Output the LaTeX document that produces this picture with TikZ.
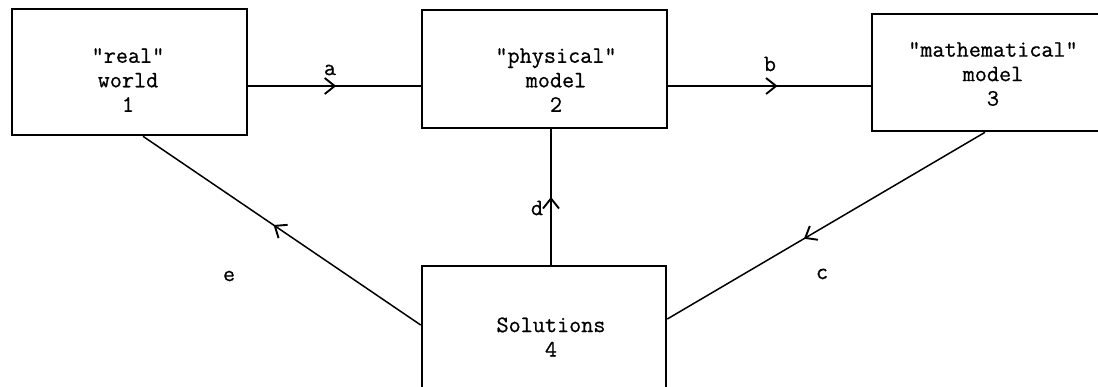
\documentclass[tikz,border=0pt]{standalone}
\usepackage{fontspec}
\newfontfamily\typewriter{Latin Modern Mono}[FakeBold=0.7]
\usetikzlibrary{arrows.meta,decorations.markings}
\tikzset{
  boxnode/.style={draw, rectangle, line width=2.6pt, inner sep=0pt},
  txt/.style={font=\typewriter\fontsize{23.5}{24.5}\selectfont, inner sep=0pt, align=center},
  flow/.style={line width=1.5pt, postaction={decorate},
    decoration={markings, mark=at position #1 with
      {\arrow{Straight Barb[length=10pt,width=16pt,line width=1.9pt]}}}},
}
\begin{document}
\begin{tikzpicture}[x=1pt,y=-1pt]
  \clip (0,0) rectangle (1098,386);

  % the four boxes
  \node[boxnode, minimum width=235pt, minimum height=126pt] (b1) at (129.5,72) {};
  \node[boxnode, minimum width=245pt, minimum height=118pt] (b2) at (544.5,69) {};
  \node[boxnode, minimum width=233pt, minimum height=117pt] (b3) at (988.5,72.5) {};
  \node[boxnode, minimum width=244pt, minimum height=134pt] (b4) at (544,333) {};

  % box texts
  \node[txt] (t1) at (128,80) {"real"\\world\\1};
  \node[txt] (t2) at (556,80) {"physical"\\model\\2};
  \node[txt] (t3) at (993,74) {"mathematical"\\model\\3};
  \node[txt] (t4) at (551,337) {Solutions\\4};

  % reference points for where the connectors meet the boxes
  \coordinate (ya) at (0,86);
  \coordinate (xd) at (551,0);
  \coordinate (ye) at (0,325);
  \coordinate (xe) at (143,0);
  \coordinate (yc) at (0,319);
  \coordinate (xc) at (985,0);

  % connectors
  \draw[flow=0.51] (b1.east |- ya) -- (b2.west |- ya);
  \draw[flow=0.54] (b2.east |- ya) -- (b3.west |- ya);
  \draw[flow=0.57] (b3.south -| xc) -- (b4.east |- yc);
  \draw[flow=0.50] (b4.north -| xd) -- (b2.south -| xd);
  \draw[flow=0.53] (b4.west |- ye) -- (b1.south -| xe);

  % connector labels
  \node[txt] (la) at (330,70) {a};
  \node[txt] (lb) at (770,64) {b};
  \node[txt] (lc) at (822,274) {c};
  \node[txt] (ld) at (537,208) {d};
  \node[txt] (le) at (229,276) {e};
\end{tikzpicture}
\end{document}
